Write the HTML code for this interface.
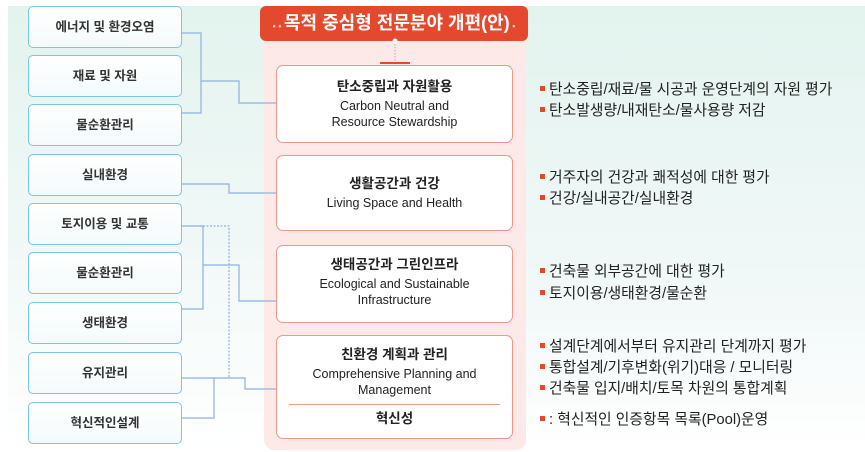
<!DOCTYPE html>
<html><head><meta charset="utf-8"><style>
*{margin:0;padding:0;box-sizing:border-box}
body{width:865px;height:452px;overflow:hidden;background:#fff;font-family:"Liberation Sans","Noto Sans CJK KR",sans-serif;position:relative}
.bgl{position:absolute;left:8px;top:6px;width:260px;height:440px;background:linear-gradient(180deg,#e3f3ee 0%,#f2f9f8 60%,#fff 100%)}
.bgr{position:absolute;left:520px;top:6px;width:345px;height:440px;background:linear-gradient(180deg,#e3f3ee 0%,#f3f9f9 70%,#fff 100%)}
.pink{position:absolute;left:264px;top:30px;width:262px;height:420px;background:#fdeae8;border-radius:10px}
.hdr{position:absolute;left:260px;top:6px;width:268px;height:35px;background:#e5492d;border-radius:6px;color:#fff;font-weight:bold;font-size:18px;text-align:center;line-height:34px;white-space:nowrap}
.lb{position:absolute;left:28px;width:154px;height:42px;border:1.5px solid #7cc5e3;border-radius:5px;background:linear-gradient(#fff,#f4fafc);font-size:12.5px;font-weight:bold;color:#333;text-align:center;line-height:40px}
.cb{position:absolute;left:276px;width:237px;border:1.5px solid #f0968a;border-radius:7px;background:#fff;text-align:center;color:#222;font-size:12.5px;line-height:16px}
.cb b{display:block;font-size:13.5px;margin-bottom:3px}
.r{position:absolute;left:540px;font-size:14.8px;color:#222;white-space:nowrap}
.r:before{content:"";display:inline-block;width:5px;height:5px;background:#e5492d;margin-right:4px;vertical-align:middle;position:relative;top:-2px}
svg{position:absolute;left:0;top:0}
</style></head><body>
<div class="bgl"></div><div class="bgr"></div>
<div class="pink"></div>
<div class="hdr"><span style="font-size:9px;opacity:.7">• • </span>목적 중심형 전문분야 개편(안)<span style="font-size:9px;opacity:.7"> •</span></div>
<svg width="865" height="452">
<g fill="none" stroke="#8fb0e0" stroke-width="1.2">
<path d="M182 33H201V113H182M201 81H239V103H276"/>
<path d="M182 184H229V193H276"/>
<path d="M182 226H203V309H182M203 265H239V301H276"/>
<path d="M203 226H229V378" stroke-dasharray="2 1.5"/>
<path d="M182 378H245V389H276M182 418H214V378"/>
</g>
<circle cx="395" cy="41" r="2.5" fill="#fff"/>
<path d="M395 44V62" stroke="#c9a09a" stroke-dasharray="1.5 1.5"/>
<path d="M380 63H410" stroke="#e5492d" stroke-width="2"/>
</svg>
<div class="lb" style="top:6px">에너지 및 환경오염</div>
<div class="lb" style="top:55px">재료 및 자원</div>
<div class="lb" style="top:104px">물순환관리</div>
<div class="lb" style="top:154px">실내환경</div>
<div class="lb" style="top:203px">토지이용 및 교통</div>
<div class="lb" style="top:252px">물순환관리</div>
<div class="lb" style="top:302px">생태환경</div>
<div class="lb" style="top:352px">유지관리</div>
<div class="lb" style="top:402px">혁신적인설계</div>
<div class="cb" style="top:65px;height:78px;padding-top:13px"><b>탄소중립과 자원활용</b>Carbon Neutral and<br>Resource Stewardship</div>
<div class="cb" style="top:155px;height:76px;padding-top:20px"><b>생활공간과 건강</b>Living Space and Health</div>
<div class="cb" style="top:245px;height:78px;padding-top:11px"><b>생태공간과 그린인프라</b>Ecological and Sustainable<br>Infrastructure</div>
<div class="cb" style="top:335px;height:104px;padding-top:11px"><b>친환경 계획과 관리</b>Comprehensive Planning and<br>Management
<div style="margin:6px 12px 0;border-top:1px solid #f0968a;padding-top:6px;font-weight:bold;font-size:13.5px">혁신성</div></div>
<div class="r" style="top:78px">탄소중립/재료/물 시공과 운영단계의 자원 평가</div>
<div class="r" style="top:99px">탄소발생량/내재탄소/물사용량 저감</div>
<div class="r" style="top:166px">거주자의 건강과 쾌적성에 대한 평가</div>
<div class="r" style="top:187px">건강/실내공간/실내환경</div>
<div class="r" style="top:260px">건축물 외부공간에 대한 평가</div>
<div class="r" style="top:282px">토지이용/생태환경/물순환</div>
<div class="r" style="top:335px">설계단계에서부터 유지관리 단계까지  평가</div>
<div class="r" style="top:356px">통합설계/기후변화(위기)대응 / 모니터링</div>
<div class="r" style="top:377px">건축물 입지/배치/토목 차원의 통합계획</div>
<div class="r" style="top:408px">: 혁신적인 인증항목 목록(Pool)운영</div>
</body></html>
